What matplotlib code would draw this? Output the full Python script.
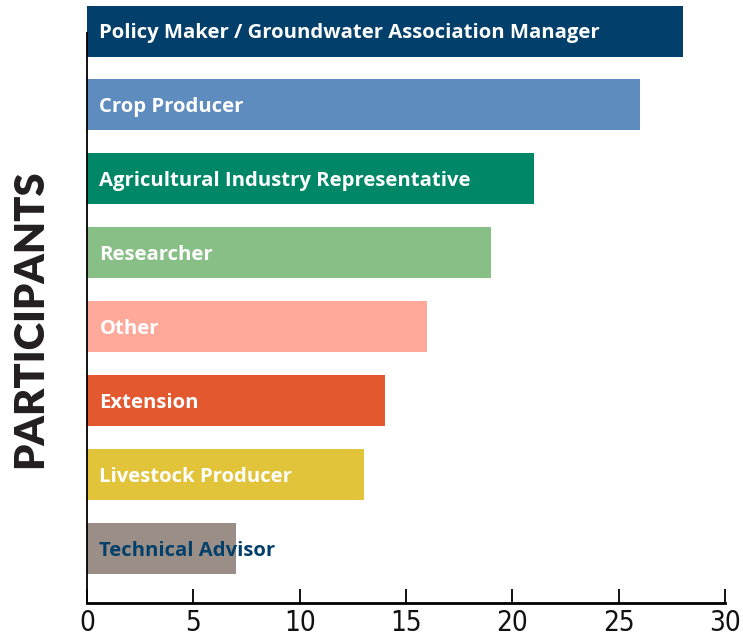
import matplotlib.pyplot as plt
import numpy as np

# participant counts by role
roles = ["Policy Maker / Groundwater Association Manager", "Crop Producer",
         "Agricultural Industry Representative", "Researcher", "Other",
         "Extension", "Livestock Producer", "Technical Advisor"]
counts = [28, 26, 21, 19, 16, 14, 13, 7]
colors = ["#02406b", "#5e8cbe", "#008767", "#88bf86", "#ffa99b",
          "#e4582f", "#e2c43b", "#9a8e87"]
label_colors = ["white"] * 7 + ["#02406b"]
ticks = [0, 5, 10, 15, 20, 25, 30]

fig = plt.figure(figsize=(7.43, 6.39), dpi=100)
ax = fig.add_axes([0.117, 0.056, 0.859, 0.892])

y = np.arange(len(roles))
bars = ax.barh(y, counts, height=0.69, color=colors, clip_on=False)

for yi, name, c in zip(y, roles, label_colors):
    ax.annotate(name, (0, yi), xytext=(9, -1.5), textcoords="offset points",
                ha="left", va="center", color=c, fontsize=14.6,
                fontweight="bold", family="Open Sans", annotation_clip=False)

ax.set_xlim(0, 30)
ax.set_ylim(7.74, 0.03)
ax.set_xticks(ticks)
ax.set_yticks([])
ax.tick_params(axis="x", direction="in", length=10, width=1.3, pad=4,
               labelsize=20, labelcolor="#111111")
for lbl in ax.get_xticklabels():
    lbl.set_family("DejaVu Sans")
    lbl.set_fontstretch("condensed")
    lbl.set_fontweight("light")

for s in ["top", "right"]:
    ax.spines[s].set_visible(False)
ax.spines["bottom"].set_linewidth(2)
ax.spines["left"].set_linewidth(1.3)

ax.set_ylabel("PARTICIPANTS", fontsize=30, fontweight="heavy", family="Lato",
              color="#231f20", labelpad=27)

fig.savefig("out.png", dpi=100)
